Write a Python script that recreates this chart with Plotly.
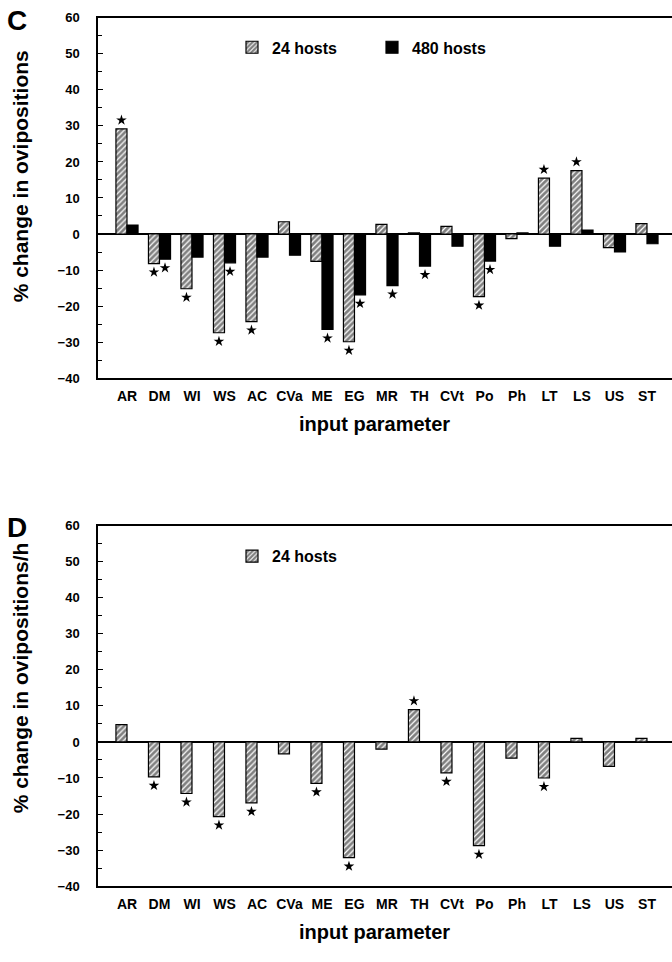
import plotly.graph_objects as go

params = ["AR", "DM", "WI", "WS", "AC", "CVa", "ME", "EG", "MR", "TH",
          "CVt", "Po", "Ph", "LT", "LS", "US", "ST"]
yticks = [-40, -30, -20, -10, 0, 10, 20, 30, 40, 50, 60]

# Panel C: % change in ovipositions
c_24 = [29.2, -8.2, -15.2, -27.4, -24.3, 3.4, -7.6, -29.9, 2.7, 0.3,
        2.1, -17.4, -1.3, 15.5, 17.6, -3.8, 2.9]
c_480 = [2.5, -7.0, -6.4, -8.0, -6.4, -5.9, -26.5, -16.9, -14.3, -8.9,
         -3.4, -7.5, 0.3, -3.4, 1.1, -5.0, -2.7]
c_24_sig = [1, 1, 1, 1, 1, 0, 0, 1, 0, 0, 0, 1, 0, 1, 1, 0, 0]
c_480_sig = [0, 1, 0, 1, 0, 0, 1, 1, 1, 1, 0, 1, 0, 0, 0, 0, 0]

# Panel D: % change in ovipositions/h
d_24 = [4.8, -9.7, -14.3, -20.7, -16.9, -3.3, -11.5, -32.1, -2.0, 9.0,
        -8.6, -28.8, -4.5, -10.0, 1.0, -6.8, 1.0]
d_24_sig = [0, 1, 1, 1, 1, 0, 1, 1, 0, 1, 1, 1, 0, 1, 0, 0, 0]

W, H = 672, 962
FONT = "Liberation Sans"
idx = list(range(len(params)))
bw = 0.34
star_gap = 2.4

hatch = dict(shape="/", size=4, solidity=0.7, fgcolor="black", bgcolor="white")


def stars(vals, sig, shift):
    xs, ys = [], []
    for i, (v, s) in enumerate(zip(vals, sig)):
        if s:
            xs.append(i + shift)
            ys.append(v + (star_gap if v >= 0 else -star_gap))
    return xs, ys


def bold(size):
    return dict(family=FONT, size=size, color="black", weight="bold")


fig = go.Figure()

# ---- Panel C
fig.add_trace(go.Bar(x=idx, y=c_24, width=bw, offset=-bw, name="24 hosts",
                     marker=dict(color="white", pattern=hatch,
                                 line=dict(color="black", width=1.2)),
                     xaxis="x", yaxis="y", legend="legend"))
fig.add_trace(go.Bar(x=idx, y=c_480, width=bw, offset=0, name="480 hosts",
                     marker=dict(color="black", line=dict(color="black", width=1.2)),
                     xaxis="x", yaxis="y", legend="legend"))
sx, sy = stars(c_24, c_24_sig, -bw / 2)
fig.add_trace(go.Scatter(x=sx, y=sy, mode="markers", showlegend=False,
                         marker=dict(symbol="star", size=8, color="black"),
                         xaxis="x", yaxis="y"))
sx, sy = stars(c_480, c_480_sig, bw / 2)
fig.add_trace(go.Scatter(x=sx, y=sy, mode="markers", showlegend=False,
                         marker=dict(symbol="star", size=8, color="black"),
                         xaxis="x", yaxis="y"))

# ---- Panel D
fig.add_trace(go.Bar(x=idx, y=d_24, width=bw, offset=-bw, name="24 hosts",
                     marker=dict(color="white", pattern=hatch,
                                 line=dict(color="black", width=1.2)),
                     xaxis="x2", yaxis="y2", legend="legend2"))
sx, sy = stars(d_24, d_24_sig, -bw / 2)
fig.add_trace(go.Scatter(x=sx, y=sy, mode="markers", showlegend=False,
                         marker=dict(symbol="star", size=8, color="black"),
                         xaxis="x2", yaxis="y2"))


def xax(anchor):
    return dict(anchor=anchor, domain=[98 / W, 1], range=[-0.892, 16.77],
                tickmode="array", tickvals=idx, ticktext=params,
                showline=True, mirror=True, linecolor="black", linewidth=1.5,
                ticks="", showgrid=False, zeroline=False, tickfont=bold(14),
                ticklabelstandoff=4, fixedrange=True)


def yax(anchor, top, bottom):
    return dict(anchor=anchor, domain=[1 - bottom / H, 1 - top / H],
                range=[-40, 60], tickmode="array", tickvals=yticks,
                showline=True, linecolor="black", linewidth=1.5,
                ticks="inside", ticklen=5, tickwidth=1.2, tickcolor="black",
                minor=dict(dtick=5, tick0=0, ticks="inside", ticklen=4,
                           tickcolor="black", tickwidth=1.2),
                showgrid=False, zeroline=True, zerolinecolor="black",
                zerolinewidth=1.5, tickfont=bold(13), ticklabelstandoff=14,
                fixedrange=True)


C_TOP, C_BOT = 11, 377
D_TOP, D_BOT = 527, 893


def ann(text, x, y, size, angle=0):
    return dict(text=text, x=x / W, y=1 - y / H, xref="paper", yref="paper",
                xanchor="center", yanchor="middle", textangle=angle,
                showarrow=False, font=bold(size))


fig.update_layout(
    width=W, height=H, margin=dict(l=0, r=0, t=0, b=0),
    paper_bgcolor="white", plot_bgcolor="white",
    barmode="overlay",
    xaxis=xax("y"), yaxis=yax("x", C_TOP, C_BOT),
    xaxis2=xax("y2"), yaxis2=yax("x2", D_TOP, D_BOT),
    legend=dict(x=232 / W, y=1 - 41 / H, xanchor="left", yanchor="middle",
                orientation="h", font=bold(16), bgcolor="rgba(0,0,0,0)",
                entrywidth=95, tracegroupgap=0),
    legend2=dict(x=232 / W, y=1 - 558 / H, xanchor="left", yanchor="middle",
                 orientation="h", font=bold(16), bgcolor="rgba(0,0,0,0)"),
    annotations=[
        ann("C", 17, 14, 28),
        ann("D", 17, 529, 28),
        ann("% change in ovipositions", 20, 172, 21, -90),
        ann("% change in ovipositions/h", 20, 682, 21, -90),
        ann("input parameter", 374, 424, 20),
        ann("input parameter", 374, 940, 20),
    ],
)

fig.write_html("out.html")
